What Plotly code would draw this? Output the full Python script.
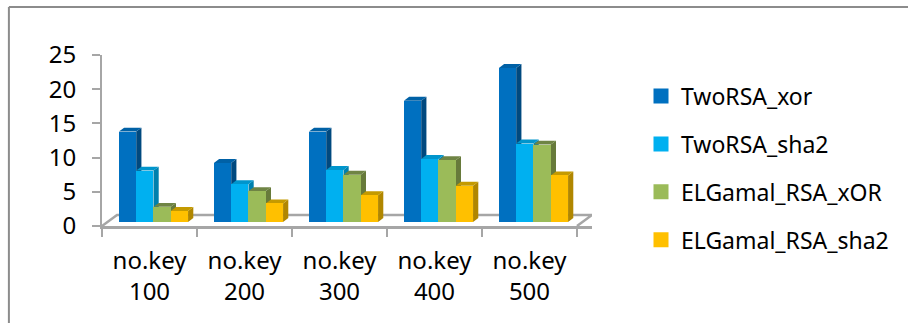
import plotly.graph_objects as go

categories = ["no.key<br>100", "no.key<br>200", "no.key<br>300", "no.key<br>400", "no.key<br>500"]
y_ticks = [0, 5, 10, 15, 20, 25]
two_rsa_xor = [13.2, 8.6, 13.2, 17.7, 22.5]
two_rsa_sha2 = [7.5, 5.5, 7.6, 9.2, 11.45]
elgamal_xor = [2.2, 4.5, 6.9, 9.0, 11.3]
elgamal_sha2 = [1.6, 2.7, 3.9, 5.3, 6.8]
series_names = ["TwoRSA_xor", "TwoRSA_sha2", "ELGamal_RSA_xOR", "ELGamal_RSA_sha2"]
series_values = [two_rsa_xor, two_rsa_sha2, elgamal_xor, elgamal_sha2]
front_colors = ["#0070C0", "#00B0F0", "#9BBB59", "#FFC000"]
side_colors = ["#00497F", "#0080AD", "#677A3B", "#B08600"]
top_colors = ["#0061A6", "#0095CC", "#6F8444", "#C49A00"]

AXIS_GRAY = "#A6A6A6"
FONT = "Noto Sans"
BAR_W = 0.182
SHIFT = 0.042
BASE = 0.6          # bars stand part-way into the floor
DX, DY = 0.055, 0.58   # bar depth
FLOOR_DX, FLOOR_DY = 0.158, 1.6
n = len(categories)
centers = list(range(n))
xr = [-0.5, n - 0.5 + FLOOR_DX]
yr = [0, 25]

fig = go.Figure()

# floor
fig.add_trace(go.Scatter(
    x=[-0.5, -0.5 + FLOOR_DX, n - 0.5 + FLOOR_DX, n - 0.5],
    y=[0, FLOOR_DY, FLOOR_DY, 0],
    mode="lines", line=dict(color=AXIS_GRAY, width=2.5),
    showlegend=False, hoverinfo="skip", cliponaxis=False))

# depth faces, drawn underneath the front faces
for k, vals in enumerate(series_values):
    for i, v in enumerate(vals):
        left = centers[i] + SHIFT + (k - 1.5) * BAR_W - BAR_W / 2
        right = left + BAR_W
        top = BASE + v
        fig.add_trace(go.Scatter(
            x=[right, right + DX, right + DX, right, right],
            y=[BASE, BASE + DY, top + DY, top, BASE],
            mode="lines", fill="toself", fillcolor=side_colors[k],
            line=dict(width=0), showlegend=False, hoverinfo="skip"))
        fig.add_trace(go.Scatter(
            x=[left, left + DX, right + DX, right, left],
            y=[top, top + DY, top + DY, top, top],
            mode="lines", fill="toself", fillcolor=top_colors[k],
            line=dict(width=0), showlegend=False, hoverinfo="skip"))

# front faces
for k, vals in enumerate(series_values):
    fig.add_trace(go.Bar(
        x=[c + SHIFT + (k - 1.5) * BAR_W for c in centers], y=vals, base=BASE,
        width=BAR_W, name=series_names[k], marker=dict(color=front_colors[k], line=dict(width=0)),
        xaxis="x2", yaxis="y2", legendgroup=series_names[k], showlegend=False))

# legend keys
for k, name in enumerate(series_names):
    fig.add_trace(go.Scatter(
        x=[None], y=[None], mode="markers", name=name, legendgroup=name,
        marker=dict(symbol="square", size=15, color=front_colors[k]),
        xaxis="x2", yaxis="y2"))

fig.update_layout(
    width=908, height=323, autosize=False,
    margin=dict(l=102, r=316, t=55, b=97),
    paper_bgcolor="white", plot_bgcolor="white",
    barmode="overlay", bargap=0,
    font=dict(family=FONT, size=24, color="#000000"),
    xaxis=dict(range=xr, tickmode="array", tickvals=[c - 0.5 for c in centers] + [n - 0.5],
               ticktext=[""] * (n + 1), ticks="outside", ticklen=8, tickwidth=2, tickcolor=AXIS_GRAY,
               showline=True, linecolor=AXIS_GRAY, linewidth=3, showgrid=False, zeroline=False),
    yaxis=dict(range=yr, tickmode="array", tickvals=y_ticks, ticks="outside", ticklen=8, tickwidth=2,
               tickcolor=AXIS_GRAY, showline=True, linecolor=AXIS_GRAY, linewidth=2, showgrid=False,
               zeroline=False, tickfont=dict(size=24), ticklabelstandoff=11),
    xaxis2=dict(range=xr, overlaying="x", side="bottom", tickmode="array", tickvals=centers,
                ticktext=categories, ticks="", showline=False, showgrid=False, zeroline=False,
                tickfont=dict(size=24), ticklabelstandoff=18),
    yaxis2=dict(range=yr, overlaying="y", visible=False),
    legend=dict(x=1.10, y=0.339, xanchor="left", yanchor="middle", tracegroupgap=15, maxheight=300,
                font=dict(size=23), bgcolor="rgba(0,0,0,0)", itemclick=False, itemdoubleclick=False),
    shapes=[
        dict(type="line", xref="paper", yref="paper", x0=-0.19, x1=1.65, y0=1.28, y1=1.28,
             line=dict(color="#8C8C8C", width=2)),
        dict(type="line", xref="paper", yref="paper", x0=-0.19, x1=-0.19, y0=-0.57, y1=1.28,
             line=dict(color="#8C8C8C", width=2)),
    ],
)
fig.write_html("out.html", config={"displayModeBar": False},
               post_script="document.body.style.margin='0';document.body.style.overflow='hidden';")
